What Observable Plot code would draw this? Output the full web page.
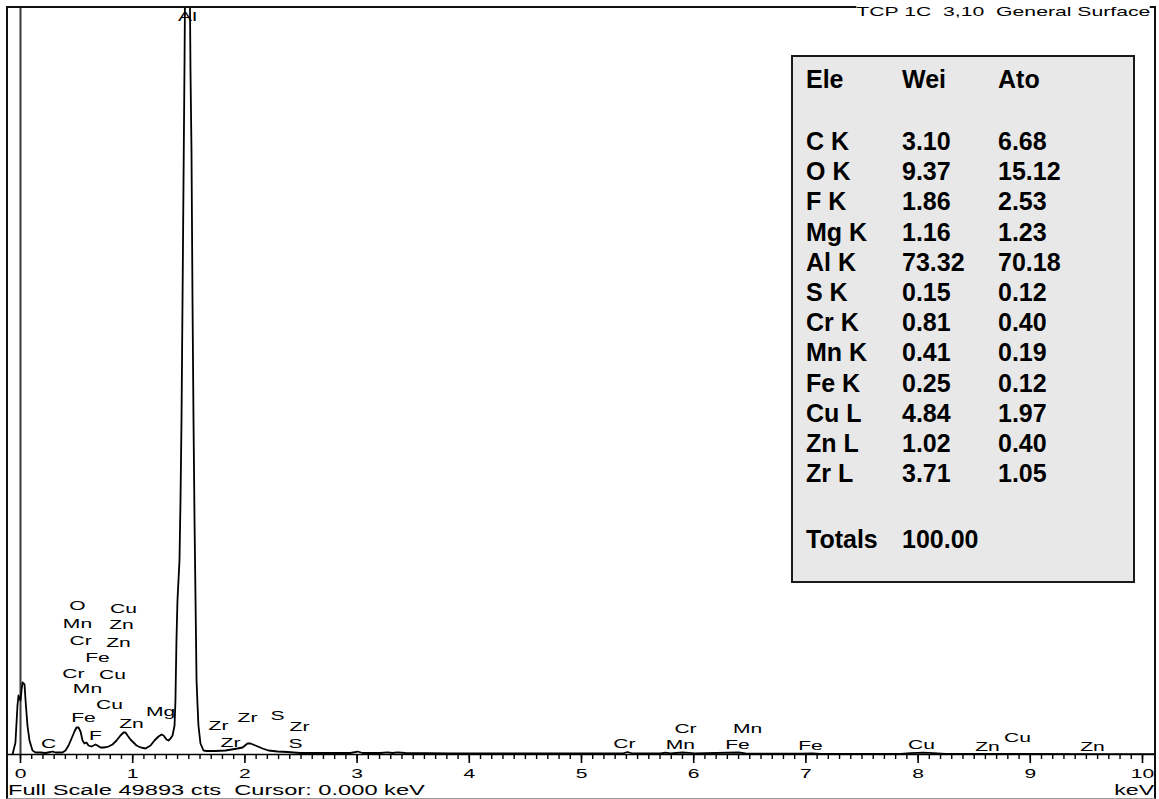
<!DOCTYPE html>
<html>
<head>
<meta charset="utf-8">
<script src="https://cdn.jsdelivr.net/npm/d3@7"></script>
<script src="https://cdn.jsdelivr.net/npm/@observablehq/plot@0.6"></script>
<style>
  body { margin: 0; background: #fff; }
  #wrap { position: relative; width: 1159px; height: 799px; overflow: hidden; background: #fff;
          font-family: "Liberation Sans", Arial, Helvetica, sans-serif; color: #000; }
  #wrap svg { display: block; position: absolute; left: 0; top: 0; }
  #frame { position: absolute; left: 6px; top: 6px; width: 1150px; height: 793px; box-sizing: border-box;
           border: 2px solid #111; border-bottom: 1px solid #999; pointer-events: none; }
  .inst { position: absolute; font-size: 14px; line-height: 14px; white-space: pre; }
  #title { font-size: 13px; line-height: 13px; background: #fff; transform: scaleX(1.63); transform-origin: right center; }
  #fullscale { transform: scaleX(1.69); transform-origin: left center; }
  #kev { transform: scaleX(1.65); transform-origin: right center; }
  #tbl { position: absolute; left: 791px; top: 55px; width: 344px; height: 528px; box-sizing: border-box;
         background: #e8e8e8; border: 2px solid #1a1a1a; }
  .cell { position: absolute; font-size: 25px; line-height: 25px; font-weight: bold; white-space: pre; }
</style>
</head>
<body>
<div id="wrap"></div>
<script>
// ---- Spectrum (energy in keV, counts) ----
const energy = [-0.071, -0.045, -0.027, -0.018, 0.000, 0.009, 0.018, 0.036, 0.045, 0.062, 0.080, 0.107, 0.134,
  0.178, 0.223, 0.267, 0.285, 0.312, 0.374, 0.401, 0.428, 0.455, 0.481, 0.499, 0.517, 0.535, 0.553, 0.570,
  0.588, 0.606, 0.633, 0.651, 0.668, 0.686, 0.713, 0.749, 0.784, 0.820, 0.856, 0.891, 0.918, 0.936, 0.954,
  0.980, 1.007, 1.034, 1.070, 1.114, 1.159, 1.194, 1.230, 1.257, 1.275, 1.301, 1.319, 1.337, 1.355, 1.373,
  1.381, 1.390, 1.399, 1.417, 1.426, 1.435, 1.444, 1.453, 1.462, 1.488, 1.515, 1.524, 1.533, 1.542, 1.551,
  1.560, 1.569, 1.578, 1.586, 1.604, 1.631, 1.658, 1.738, 1.827, 1.934, 1.979, 2.023, 2.050, 2.094, 2.157,
  2.210, 2.291, 2.380, 2.433, 2.496, 2.674, 2.941, 3.004, 3.048, 3.209, 3.271, 3.316, 3.360, 3.431, 3.832,
  4.278, 4.724, 5.169, 5.365, 5.410, 5.455, 5.704, 5.749, 5.793, 5.900, 5.954, 6.007, 6.399, 6.462, 6.952,
  7.060, 7.130, 7.843, 7.932, 8.048, 8.137, 8.244, 8.734, 9.626, 10.12];
const counts = [0, 802, 3273, 3941, 3607, 4275, 4810, 4676, 3607, 1937, 935, 267, 134,
  134, 100, 167, 200, 134, 134, 267, 601, 1069, 1536, 1804, 1804, 1536, 935, 735,
  802, 601, 534, 601, 668, 601, 468, 468, 534, 668, 935, 1269, 1470, 1470, 1269,
  1002, 802, 601, 468, 401, 601, 935, 1202, 1336, 1269, 1002, 935, 1069, 1269, 1937,
  3607, 7615, 10287, 12960, 16967, 22311, 30327, 38343, 46359, 72000, 45691, 40347, 30327, 22311, 15631,
  10287, 4943, 3273, 1937, 735, 267, 234, 234, 267, 401, 468, 735, 735, 601, 401,
  267, 200, 167, 134, 100, 100, 100, 200, 100, 100, 147, 100, 147, 100, 80,
  67, 67, 67, 67, 167, 67, 67, 120, 67, 134, 114, 67, 134, 67, 53,
  80, 47, 40, 94, 120, 94, 40, 33, 27, 27];

// ---- Peak identification labels ----
const lineNames  = ["O", "Cu", "Mn", "Zn", "Cr", "Zn", "Fe", "Cr", "Cu", "Mn", "Cu", "Mg", "Fe", "Zn", "F", "C",
  "Al", "Zr", "Zr", "S", "Zr", "Zr", "S", "Cr", "Cr", "Mn", "Mn", "Fe", "Fe", "Cu", "Zn", "Cu", "Zn"];
const lineEnergy = [0.508, 0.918, 0.508, 0.900, 0.535, 0.873, 0.686, 0.472, 0.820, 0.597, 0.793, 1.248, 0.561, 0.989, 0.668, 0.250,
  1.488, 1.765, 2.023, 2.291, 2.487, 1.872, 2.451, 5.383, 5.927, 5.882, 6.480, 6.390, 7.041, 8.030, 8.619, 8.886, 9.554];
const lineCounts = [9953, 9753, 8751, 8684, 7615, 7482, 6480, 5411, 5344, 4409, 3340, 2872, 2472, 2071, 1269, 735,
  49299, 1937, 2472, 2605, 1870, 802, 735, 735, 1737, 668, 1737, 668, 601, 668, 534, 1136, 534];

// ---- Axis ----
const fullScale = 49893;
const majorTicks = [0, 1, 2, 3, 4, 5, 6, 7, 8, 9, 10];
const minorTicks = d3.range(0, 101).map(i => i / 10);

// ---- Quantification table ----
const tableHeaders = ["Ele", "Wei", "Ato"];
const tableElements = ["C K", "O K", "F K", "Mg K", "Al K", "S K", "Cr K", "Mn K", "Fe K", "Cu L", "Zn L", "Zr L"];
const tableWeight = ["3.10", "9.37", "1.86", "1.16", "73.32", "0.15", "0.81", "0.41", "0.25", "4.84", "1.02", "3.71"];
const tableAtomic = ["6.68", "15.12", "2.53", "1.23", "70.18", "0.12", "0.40", "0.19", "0.12", "1.97", "0.40", "1.05"];
const totalsLabel = "Totals", totalsValue = "100.00";

const titleText = "TCP 1C  3,10  General Surface";
const footerText = "Full Scale " + fullScale + " cts  Cursor: 0.000 keV";

const spectrum = energy.map((e, i) => ({e, c: counts[i]}));
const labels = lineNames.map((n, i) => ({n, e: lineEnergy[i], c: lineCounts[i]}));

const plot = Plot.plot({
  width: 1159, height: 799,
  marginTop: 7, marginBottom: 45, marginLeft: 7, marginRight: 4,
  x: {domain: [-0.1159, 10.116], axis: null, label: null},
  y: {domain: [0, fullScale], axis: null, label: null},
  style: {fontFamily: '"Liberation Sans", Arial, sans-serif', fontSize: "13px", background: "#fff", color: "#000", overflow: "visible"},
  marks: [
    Plot.ruleX([0], {stroke: "#3a3a3a", strokeWidth: 2}),
    Plot.text(labels, {x: "e", y: "c", text: "n", fontSize: 13, fill: "#000"}),
    Plot.line(spectrum, {x: "e", y: "c", stroke: "#000", strokeWidth: 1.8, clip: true}),
    Plot.ruleY([0], {stroke: "#000", strokeWidth: 1.5}),
    Plot.axisX({ticks: minorTicks, tickSize: 5, tickFormat: () => "", anchor: "bottom", label: null, stroke: "#000", strokeWidth: 1.4}),
    Plot.axisX({ticks: majorTicks, tickSize: 9, tickPadding: 5, anchor: "bottom", label: null, fontSize: 13, stroke: "#000", strokeWidth: 1.6, tickFormat: d => String(d)})
  ]
});

// Instrument bitmap font is wide: stretch the SVG texts horizontally around their anchor point
const isNum = v => v != null && v !== "" && !/[a-z%]/i.test(v);
plot.querySelectorAll("text").forEach(t => {
  let tr = t.getAttribute("transform") || "";
  const x = t.getAttribute("x"), y = t.getAttribute("y");
  let tx = 0, ty = 0;
  if (isNum(x)) { tx = +x; t.removeAttribute("x"); }
  if (isNum(y)) { ty = +y; t.removeAttribute("y"); }
  if (tx || ty) tr += ` translate(${tx},${ty})`;
  t.setAttribute("transform", (tr + " scale(1.62,1)").trim());
});

const wrap = document.getElementById("wrap");
wrap.appendChild(plot);

const frame = document.createElement("div"); frame.id = "frame"; wrap.appendChild(frame);

function addDiv(id, cls, text, style) {
  const d = document.createElement("div");
  if (id) d.id = id;
  d.className = cls; d.textContent = text;
  Object.assign(d.style, style);
  wrap.appendChild(d);
  return d;
}
addDiv("title", "inst", titleText, {right: "9px", top: "5px"});
addDiv("fullscale", "inst", footerText, {left: "8px", top: "783px"});
addDiv("kev", "inst", "keV", {right: "5px", top: "783px"});

const tbl = document.createElement("div"); tbl.id = "tbl"; wrap.appendChild(tbl);
const colX = [806, 902, 998];
const base = 21; // baseline offset for 25px line box
function cell(text, x, baseline) { addDiv(null, "cell", text, {left: x + "px", top: (baseline - base) + "px"}); }
tableHeaders.forEach((h, j) => cell(h, colX[j], 88));
tableElements.forEach((el, i) => {
  const b = 150 + i * 30.2;
  cell(el, colX[0], b); cell(tableWeight[i], colX[1], b); cell(tableAtomic[i], colX[2], b);
});
cell(totalsLabel, colX[0], 548); cell(totalsValue, colX[1], 548);
</script>
</body>
</html>
